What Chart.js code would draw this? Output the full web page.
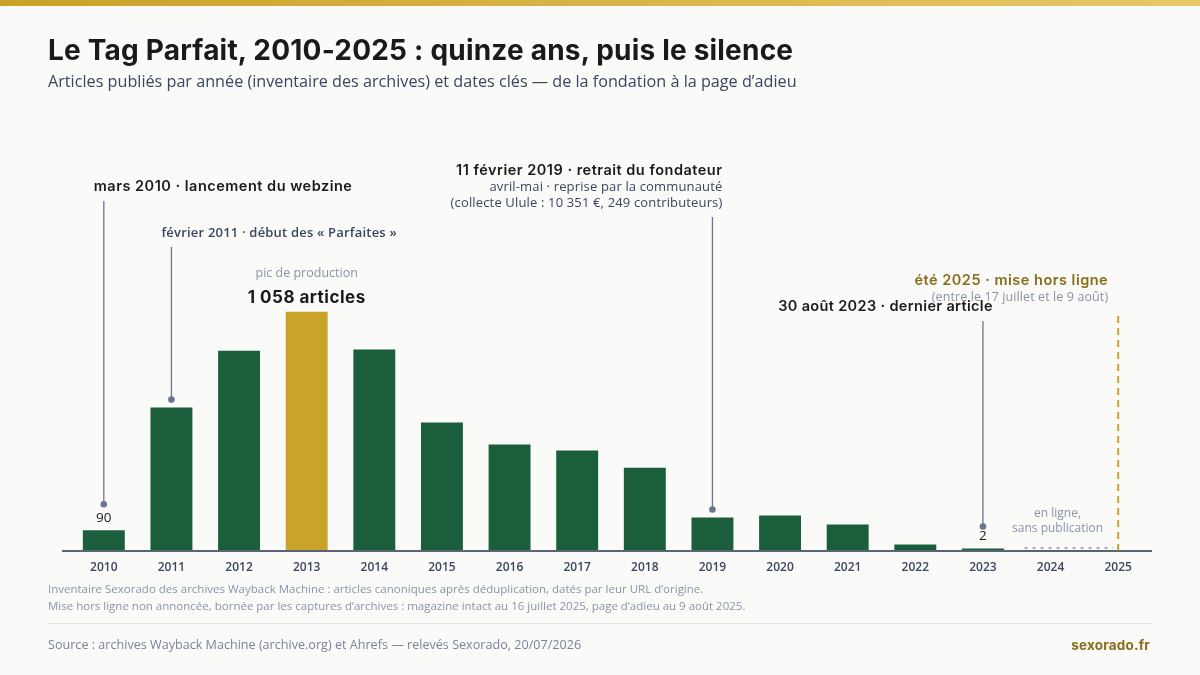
<!DOCTYPE html>
<html lang="fr">
<head>
<meta charset="utf-8">
<title>Le Tag Parfait, 2010-2025</title>
<script src="https://cdn.jsdelivr.net/npm/chart.js@4.4.1/dist/chart.umd.min.js"></script>
<style>
    body { margin: 0; width: 1200px; height: 675px; background: #fafaf8; position: relative; overflow: hidden; font-family: "Open Sans", sans-serif; }
    .topbar { position: absolute; left: 0; top: 0; width: 1200px; height: 6px; background: linear-gradient(90deg, #c9a227, #e8c768); }
    #chart { position: absolute; left: 0; top: 0; }
    .txt { position: absolute; z-index: 2; white-space: nowrap; }
    h1.txt { left: 48px; top: 33px; margin: 0; font: 700 28px Inter, sans-serif; color: #1a1a1a; letter-spacing: 0.2px; }
    .sub { left: 48px; top: 70px; font-size: 16.2px; color: #3a4560; }
    .notes { left: 48px; top: 580px; font-size: 11.5px; line-height: 17px; color: #8a93a8; }
    .sep { position: absolute; left: 48px; top: 623px; width: 1104px; height: 1px; background: #e5e3dd; }
    .source { left: 48px; top: 636px; font-size: 12.6px; color: #7a8399; }
    .brand { right: 50px; top: 637px; font: 700 13.5px Inter, sans-serif; color: #8a6d1a; letter-spacing: 0.2px; }
</style>
</head>
<body>
<div class="topbar"></div>
<h1 class="txt">Le Tag Parfait, 2010-2025 : quinze ans, puis le silence</h1>
<div class="txt sub">Articles publiés par année (inventaire des archives) et dates clés — de la fondation à la page d’adieu</div>
<canvas id="chart" width="1200" height="675"></canvas>
<div class="txt notes">Inventaire Sexorado des archives Wayback Machine : articles canoniques après déduplication, datés par leur URL d’origine.<br>Mise hors ligne non annoncée, bornée par les captures d’archives : magazine intact au 16 juillet 2025, page d’adieu au 9 août 2025.</div>
<div class="sep"></div>
<div class="txt source">Source : archives Wayback Machine (archive.org) et Ahrefs — relevés Sexorado, 20/07/2026</div>
<div class="txt brand">sexorado.fr</div>

<script>
// Données
const annees = ['2010', '2011', '2012', '2013', '2014', '2015', '2016', '2017', '2018', '2019', '2020', '2021', '2022', '2023', '2024', '2025'];
const articles = [90, 633, 885, 1058, 890, 567, 469, 443, 367, 146, 155, 115, 27, 2, 0, 0];
const anneePic = '2013';
const valeursAffichees = { '2010': '90', '2023': '2' };

// Dates clés
const evenements = [
    { annee: '2010', titre: 'mars 2010 · lancement du webzine', lignes: [] },
    { annee: '2011', titre: 'février 2011 · début des « Parfaites »', lignes: [] },
    { annee: '2019', titre: '11 février 2019 · retrait du fondateur', lignes: ['avril-mai · reprise par la communauté', '(collecte Ulule : 10 351 €, 249 contributeurs)'] },
    { annee: '2023', titre: '30 août 2023 · dernier article', lignes: [] },
    { annee: '2025', titre: 'été 2025 · mise hors ligne', lignes: ['(entre le 17 juillet et le 9 août)'] }
];

const COULEURS = {
    vert: '#1b5e3b',
    or: '#c9a32a',
    orFonce: '#8a6d1a',
    encre: '#1a1a1a',
    ardoise: '#3a4560',
    gris: '#8a93a8',
    trait: '#6b7591',
    axe: '#5a6478'
};

const HEAD = 'Inter, sans-serif';
const BODY = '"Open Sans", sans-serif';

function texte(ctx, str, x, y, font, color, align, espacement) {
    ctx.font = font;
    ctx.fillStyle = color;
    ctx.textAlign = align || 'left';
    ctx.textBaseline = 'middle';
    ctx.letterSpacing = (espacement || 0) + 'px';
    ctx.fillText(str, x, y);
    ctx.letterSpacing = '0px';
}

function repere(ctx, x, yHaut, yBas) {
    ctx.strokeStyle = COULEURS.trait;
    ctx.lineWidth = 1.3;
    ctx.beginPath();
    ctx.moveTo(x, yHaut);
    ctx.lineTo(x, yBas);
    ctx.stroke();
    ctx.fillStyle = COULEURS.trait;
    ctx.beginPath();
    ctx.arc(x, yBas, 3.3, 0, Math.PI * 2);
    ctx.fill();
}

const annotationsPlugin = {
    id: 'annotations',
    afterDatasetsDraw(chart) {
        const { ctx, chartArea, scales: { x, y } } = chart;
        const px = a => x.getPixelForValue(annees.indexOf(a));
        const haut = a => y.getPixelForValue(articles[annees.indexOf(a)]);
        ctx.save();

        // axe de base
        ctx.strokeStyle = COULEURS.axe;
        ctx.lineWidth = 2;
        ctx.beginPath();
        ctx.moveTo(62, chartArea.bottom + 0.5);
        ctx.lineTo(chartArea.right, chartArea.bottom + 0.5);
        ctx.stroke();

        // valeurs au-dessus des barres
        Object.keys(valeursAffichees).forEach(a => {
            const yTop = Math.min(haut(a), chartArea.bottom - 2);
            texte(ctx, valeursAffichees[a], px(a), yTop - 12, '500 13.5px ' + BODY, COULEURS.encre, 'center');
        });

        // pic
        const xPic = px(anneePic);
        const yPic = haut(anneePic);
        texte(ctx, 'pic de production', xPic, yPic - 38, '12.5px ' + BODY, COULEURS.gris, 'center');
        texte(ctx, '1 058 articles', xPic, yPic - 14, '700 17px ' + HEAD, COULEURS.encre, 'center', 0.5);

        // 2010
        let e = evenements[0];
        repere(ctx, px(e.annee), 201, haut(e.annee) - 26);
        texte(ctx, e.titre, px(e.annee) - 10, 187, '600 14.5px ' + HEAD, COULEURS.encre, 'left', 0.5);

        // 2011
        e = evenements[1];
        repere(ctx, px(e.annee), 247, haut(e.annee) - 8);
        texte(ctx, e.titre, px(e.annee) - 10, 233, '600 13px ' + BODY, COULEURS.ardoise, 'left', 0.2);

        // 2019
        e = evenements[2];
        repere(ctx, px(e.annee), 217, haut(e.annee) - 8);
        texte(ctx, e.titre, px(e.annee) + 10, 171, '600 14.5px ' + HEAD, COULEURS.encre, 'right', 0.5);
        e.lignes.forEach((l, i) => texte(ctx, l, px(e.annee) + 10, 187 + i * 16, '13px ' + BODY, COULEURS.ardoise, 'right', 0.15));

        // 2023
        e = evenements[3];
        repere(ctx, px(e.annee), 321, chartArea.bottom - 24);
        texte(ctx, e.titre, px(e.annee) + 10, 307, '600 14.5px ' + HEAD, COULEURS.encre, 'right', 0.35);

        // 2024 : en ligne sans publication
        const x24 = px('2024');
        ctx.strokeStyle = COULEURS.gris;
        ctx.lineWidth = 1.5;
        ctx.setLineDash([3, 5]);
        ctx.beginPath();
        ctx.moveTo(x24 - 26, chartArea.bottom - 2.5);
        ctx.lineTo(px('2025') - 5, chartArea.bottom - 2.5);
        ctx.stroke();
        texte(ctx, 'en ligne,', x24 + 7, 514, '12px ' + BODY, COULEURS.gris, 'center');
        texte(ctx, 'sans publication', x24 + 7, 529, '12px ' + BODY, COULEURS.gris, 'center');

        // 2025 : mise hors ligne
        e = evenements[4];
        const x25 = px(e.annee);
        ctx.strokeStyle = COULEURS.or;
        ctx.lineWidth = 2;
        ctx.setLineDash([7, 5]);
        ctx.beginPath();
        ctx.moveTo(x25, 316);
        ctx.lineTo(x25, chartArea.bottom);
        ctx.stroke();
        ctx.setLineDash([]);
        texte(ctx, e.titre, x25 - 10, 281, '600 14.5px ' + HEAD, COULEURS.orFonce, 'right', 0.5);
        texte(ctx, e.lignes[0], x25 - 10, 297, '12.5px ' + BODY, COULEURS.gris, 'right', 0.1);

        ctx.restore();
    }
};

new Chart(document.getElementById('chart'), {
    type: 'bar',
    data: {
        labels: annees,
        datasets: [{
            data: articles,
            backgroundColor: ctx => {
                if (!ctx.raw) return 'transparent';
                return annees[ctx.dataIndex] === anneePic ? COULEURS.or : COULEURS.vert;
            },
            barPercentage: 0.62,
            categoryPercentage: 1,
            minBarLength: 2,
            borderWidth: 0
        }]
    },
    options: {
        responsive: false,
        animation: false,
        layout: { padding: { left: 70, right: 48, top: 99, bottom: 94.5 } },
        plugins: { legend: { display: false }, tooltip: { enabled: false } },
        scales: {
            x: {
                grid: { display: false, drawTicks: false },
                border: { display: false },
                ticks: { color: COULEURS.ardoise, font: { family: 'Open Sans', size: 12, weight: '600' }, padding: 10 },
                afterFit: scale => { scale.height = 30; }
            },
            y: { display: false, min: 0, max: 2000 }
        }
    },
    plugins: [annotationsPlugin]
});
</script>
</body>
</html>
